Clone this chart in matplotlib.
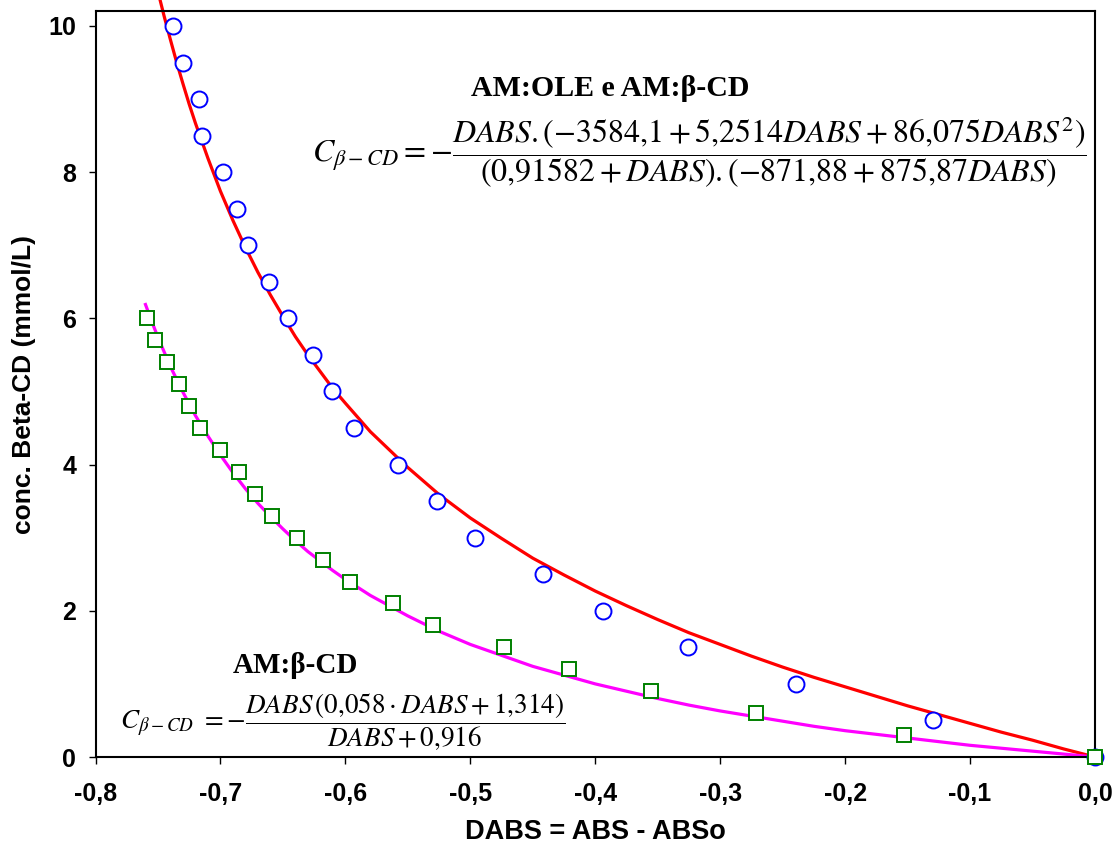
import numpy as np
import matplotlib.pyplot as plt

plt.rcParams['font.family'] = 'Liberation Sans'
plt.rcParams['mathtext.fontset'] = 'stix'

# AM:OLE e AM:beta-CD  (blue circles + red fitted curve)
dabs_ole = [-0.738, -0.730, -0.717, -0.715, -0.698, -0.687, -0.678, -0.661, -0.646,
            -0.626, -0.611, -0.593, -0.558, -0.527, -0.496, -0.442, -0.394, -0.326,
            -0.239, -0.130, 0.0]
conc_ole = [10.0, 9.5, 9.0, 8.5, 8.0, 7.5, 7.0, 6.5, 6.0, 5.5, 5.0, 4.5, 4.0, 3.5,
            3.0, 2.5, 2.0, 1.5, 1.0, 0.5, 0.0]
fit_x_ole = [-0.75, -0.745, -0.74, -0.735, -0.73, -0.725, -0.72, -0.71, -0.70, -0.69,
             -0.68, -0.67, -0.66, -0.65, -0.64, -0.63, -0.62, -0.61, -0.60, -0.58,
             -0.55, -0.525, -0.50, -0.475, -0.45, -0.425, -0.40, -0.375, -0.35,
             -0.325, -0.30, -0.275, -0.25, -0.225, -0.20, -0.175, -0.15, -0.125,
             -0.10, -0.075, -0.05, -0.025, 0.0]
fit_y_ole = [10.47, 10.13, 9.81, 9.50, 9.21, 8.93, 8.67, 8.19, 7.74, 7.34,
             6.97, 6.63, 6.32, 6.03, 5.75, 5.50, 5.27, 5.04, 4.84, 4.45,
             3.96, 3.59, 3.27, 2.99, 2.72, 2.49, 2.27, 2.07, 1.88,
             1.70, 1.54, 1.38, 1.23, 1.09, 0.96, 0.83, 0.70, 0.58,
             0.46, 0.34, 0.23, 0.11, 0.0]

# AM:beta-CD  (green squares + magenta fitted curve)
dabs_cd = [-0.759, -0.752, -0.743, -0.733, -0.725, -0.716, -0.700, -0.685, -0.672,
           -0.659, -0.639, -0.618, -0.596, -0.562, -0.530, -0.473, -0.421, -0.355,
           -0.271, -0.153, 0.0]
conc_cd = [6.0, 5.7, 5.4, 5.1, 4.8, 4.5, 4.2, 3.9, 3.6, 3.3, 3.0, 2.7, 2.4, 2.1,
           1.8, 1.5, 1.2, 0.9, 0.6, 0.3, 0.0]
fit_x_cd = [-0.76, -0.755, -0.75, -0.745, -0.74, -0.73, -0.72, -0.71, -0.70, -0.69,
            -0.68, -0.67, -0.66, -0.65, -0.64, -0.63, -0.62, -0.61, -0.60, -0.58,
            -0.55, -0.525, -0.50, -0.475, -0.45, -0.425, -0.40, -0.375, -0.35,
            -0.325, -0.30, -0.275, -0.25, -0.225, -0.20, -0.175, -0.15, -0.125,
            -0.10, -0.075, -0.05, -0.025, 0.0]
fit_y_cd = [6.19, 5.96, 5.74, 5.54, 5.34, 4.99, 4.67, 4.39, 4.13, 3.89,
            3.67, 3.47, 3.29, 3.12, 2.96, 2.81, 2.68, 2.55, 2.43, 2.21,
            1.93, 1.72, 1.54, 1.39, 1.24, 1.12, 1.00, 0.90, 0.80,
            0.71, 0.63, 0.56, 0.49, 0.42, 0.36, 0.31, 0.26, 0.21,
            0.16, 0.12, 0.08, 0.04, 0.0]

xticks = [-0.8, -0.7, -0.6, -0.5, -0.4, -0.3, -0.2, -0.1, 0.0]
xticklabels = ['-0,8', '-0,7', '-0,6', '-0,5', '-0,4', '-0,3', '-0,2', '-0,1', '0,0']
yticks = [0, 2, 4, 6, 8, 10]

W, H = 1116, 847
def fx(px):
    return px / W
def fy(py):
    return 1 - py / H

fig = plt.figure(figsize=(W / 100, H / 100), dpi=100)
ax = fig.add_axes([fx(95.5), fy(757), (1095 - 95.5) / W, (757 - 11) / H])

ax.plot(fit_x_ole, fit_y_ole, color='#ff0000', lw=2.3, clip_on=False, zorder=2)
ax.plot(fit_x_cd, fit_y_cd, color='#ff00ff', lw=2.3, zorder=2)
ax.plot(dabs_ole, conc_ole, 'o', ms=11.5, mfc='white', mec='#0000ff', mew=1.4,
        clip_on=False, zorder=3)
ax.plot(dabs_cd, conc_cd, 's', ms=9.5, mfc='white', mec='#008000', mew=1.4,
        clip_on=False, zorder=4)

ax.set_xlim(-0.8, 0.0)
ax.set_ylim(0, 10.205)
ax.set_xticks(xticks)
ax.set_xticklabels(xticklabels)
ax.set_yticks(yticks)
ax.tick_params(direction='out', length=5, width=1, labelsize=18, pad=9)
ax.tick_params(axis='x', pad=13)
for lab in ax.get_xticklabels() + ax.get_yticklabels():
    lab.set_fontweight('bold')
for sp in ax.spines.values():
    sp.set_linewidth(1.5)

ax.set_xlabel('DABS = ABS - ABSo', fontsize=19.5, fontweight='bold', labelpad=9)
ax.set_ylabel('conc. Beta-CD (mmol/L)', fontsize=19, fontweight='bold', labelpad=9)

# equations
fig.text(fx(610), fy(88), 'AM:OLE e AM:β-CD', family='Liberation Serif',
         fontweight='bold', fontsize=21.5, ha='center', va='center')
fig.text(fx(312), fy(152),
         r'$C_{\beta - CD}=-\dfrac{DABS.(-3584{,}1+5{,}2514DABS+86{,}075DABS^{2})}'
         r'{(0{,}91582+DABS).(-871{,}88+875{,}87DABS)}$',
         fontsize=23, ha='left', va='center')
fig.text(fx(295), fy(665), 'AM:β-CD', family='Liberation Serif',
         fontweight='bold', fontsize=21, ha='center', va='center')
fig.text(fx(120), fy(722),
         r'$C_{\beta - CD}\ =-\dfrac{DABS\,(0{,}058\cdot DABS+1{,}314)}{DABS+0{,}916}$',
         fontsize=19.5, ha='left', va='center')

fig.savefig('out.png', dpi=100)
